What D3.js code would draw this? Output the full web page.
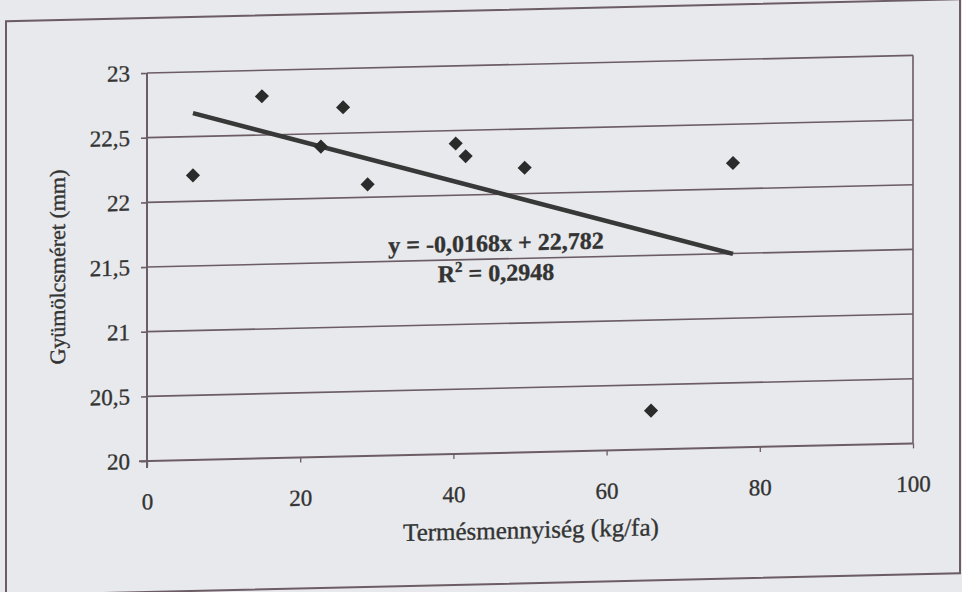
<!DOCTYPE html>
<html>
<head>
<meta charset="utf-8">
<script src="https://cdn.jsdelivr.net/npm/d3@7/dist/d3.min.js"></script>
<style>
  html, body { margin: 0; padding: 0; background: #e7e9ec; }
  svg { display: block; }
  text { font-family: "Liberation Serif", "Times New Roman", serif; fill: #333; stroke: #333; stroke-width: 0.35px; }
</style>
</head>
<body>
<script>
// Yield (kg/tree) against fruit size (mm)
const yieldKg = [6, 15, 25.6, 22.7, 28.8, 40.3, 41.6, 49.3, 76.5, 65.8];
const fruitSize = [22.2, 22.8, 22.7, 22.4, 22.1, 22.4, 22.3, 22.2, 22.2, 20.3];

const xTicks = [0, 20, 40, 60, 80, 100];
const yTicks = [20, 20.5, 21, 21.5, 22, 22.5, 23];

// Linear trend as reported on the chart
const trendSlope = -0.0168;
const trendIntercept = 22.782;
const trendLabel = "y = -0,0168x + 22,782";
const r2Value = "0,2948";

const xTitle = "Termésmennyiség (kg/fa)";
const yTitle = "Gyümölcsméret (mm)";

const W = 962, H = 592;
const plotL = 147, plotR = 913, plotT = 73, plotB = 461;
const lineCol = "#6c5c64";
const tilt = 0.023; // page sits slightly askew

const svg = d3.select("body").append("svg")
  .attr("width", W).attr("height", H);

svg.append("rect").attr("width", W).attr("height", H).attr("fill", "#e7e9ec");

const g = svg.append("g")
  .attr("transform", `matrix(1,${-tilt},0,1,0,${plotL * tilt})`);

// outer frame
g.append("rect")
  .attr("x", 6).attr("y", 18)
  .attr("width", 954).attr("height", 574)
  .attr("fill", "none").attr("stroke", lineCol).attr("stroke-width", 2);

const x = d3.scaleLinear().domain([0, 100]).range([plotL, plotR]);
const y = d3.scaleLinear().domain([20, 23]).range([plotB, plotT]);

const fmt = d => String(d).replace(".", ",");

// horizontal gridlines
g.append("g").selectAll("line")
  .data(yTicks.filter(d => d > 20))
  .join("line")
  .attr("x1", plotL).attr("x2", plotR)
  .attr("y1", d => y(d)).attr("y2", d => y(d))
  .attr("stroke", lineCol).attr("stroke-width", 1.6);

// right border of plot area
g.append("line")
  .attr("x1", plotR).attr("x2", plotR)
  .attr("y1", plotT).attr("y2", plotB)
  .attr("stroke", lineCol).attr("stroke-width", 1.6);

// y axis
const yAxis = g.append("g")
  .attr("transform", `translate(${plotL},0)`)
  .call(d3.axisLeft(y).tickValues(yTicks).tickFormat(fmt).tickSize(6).tickPadding(11));
yAxis.attr("font-family", null).attr("font-size", null);
yAxis.select(".domain").attr("stroke", lineCol).attr("stroke-width", 2)
  .attr("d", `M0,${plotT}V${plotB + 7}`);
yAxis.selectAll(".tick line").attr("stroke", lineCol).attr("stroke-width", 1.6);
yAxis.selectAll(".tick text")
  .style("font-size", "23px").attr("fill", "#333");

// x axis
const xAxis = g.append("g")
  .attr("transform", `translate(0,${plotB})`)
  .call(d3.axisBottom(x).tickValues(xTicks).tickFormat(fmt).tickSize(5).tickPadding(27));
xAxis.attr("font-family", null).attr("font-size", null);
xAxis.select(".domain").attr("stroke", lineCol).attr("stroke-width", 2)
  .attr("d", `M${plotL - 8},0H${plotR}`);
xAxis.selectAll(".tick line").attr("stroke", lineCol).attr("stroke-width", 1.3);
xAxis.selectAll(".tick text")
  .style("font-size", "23px").attr("fill", "#333");

// trend line over the observed x range
const xMin = d3.min(yieldKg), xMax = d3.max(yieldKg);
g.append("line")
  .attr("x1", x(xMin)).attr("y1", y(trendIntercept + trendSlope * xMin))
  .attr("x2", x(xMax)).attr("y2", y(trendIntercept + trendSlope * xMax))
  .attr("stroke", "#383838").attr("stroke-width", 4.5).attr("stroke-linecap", "butt");

// points
const pts = yieldKg.map((v, i) => ({ x: v, y: fruitSize[i] }));
g.append("g").selectAll("path")
  .data(pts)
  .join("path")
  .attr("d", d3.symbol().type(d3.symbolSquare).size(100))
  .attr("transform", d => `translate(${x(d.x)},${y(d.y)}) rotate(45)`)
  .attr("fill", "#2b2b2b");

// equation labels
g.append("text")
  .attr("x", 496).attr("y", 259)
  .attr("text-anchor", "middle")
  .style("font-size", "24px").style("font-weight", "bold")
  .text(trendLabel);

const r2 = g.append("text")
  .attr("x", 496).attr("y", 289)
  .attr("text-anchor", "middle")
  .style("font-size", "24px").style("font-weight", "bold");
r2.append("tspan").text("R");
r2.append("tspan").attr("dy", -10).style("font-size", "15px").text("2");
r2.append("tspan").attr("dy", 10).text(" = " + r2Value);

// axis titles
g.append("text")
  .attr("x", 531).attr("y", 547)
  .attr("text-anchor", "middle")
  .style("font-size", "25px")
  .text(xTitle);

g.append("text")
  .attr("transform", "translate(65,265) rotate(-90)")
  .attr("text-anchor", "middle")
  .style("font-size", "22px")
  .text(yTitle);
</script>
</body>
</html>
